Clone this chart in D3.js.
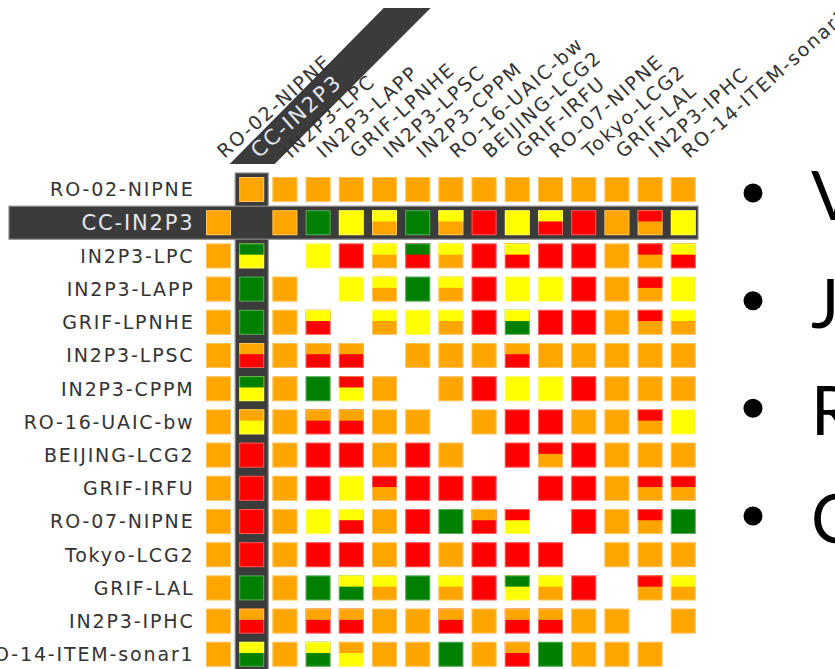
<!DOCTYPE html>
<html><head><meta charset="utf-8">
<script src="https://cdn.jsdelivr.net/npm/d3@7"></script>
<style>
html,body{margin:0;padding:0;background:#fff;overflow:hidden}
svg{display:block}
</style></head>
<body>
<svg id="chart" width="835" height="669"></svg>
<script>
// ---- data ----
const sites = ["RO-02-NIPNE","CC-IN2P3","IN2P3-LPC","IN2P3-LAPP","GRIF-LPNHE","IN2P3-LPSC","IN2P3-CPPM","RO-16-UAIC-bw","BEIJING-LCG2","GRIF-IRFU","RO-07-NIPNE","Tokyo-LCG2","GRIF-LAL","IN2P3-IPHC","RO-14-ITEM-sonar1"];
const highlighted = "CC-IN2P3";
// status codes: O=orange, R=red, Y=yellow, G=green; "A/B" = top/bottom halves; "" = no test
const statusRows = [
 ["","O","O","O","O","O","O","O","O","O","O","O","O","O","O"],
 ["O","","O","G","Y","Y/O","G","Y/O","R","Y","Y/R","R","O","R/O","Y"],
 ["O","G/Y","","Y","R","Y/O","G/R","Y/O","R","Y/R","R","R","O","R/O","Y/R"],
 ["O","G","O","","Y","Y/O","G","Y/O","R","Y","Y","R","O","R/O","Y"],
 ["O","G","O","Y/R","","Y/O","Y","Y/O","R","Y/G","R","R","O","R/O","Y/O"],
 ["O","O/R","O","O/R","O/R","","O","O","O","O/R","O","O","O","O","O"],
 ["O","G/Y","O","G","R/Y","O","","O","R","Y","Y","R","O","O","O"],
 ["O","O/Y","O","O/R","O/R","O","O","","O","R","R","O","O","R/O","Y"],
 ["O","R","O","R","R","O","R","O","","R","R/O","R","O","O","O"],
 ["O","R","O","R","Y","R/O","R","R","R","","R","R","O","R/O","R/O"],
 ["O","R","O","Y","Y/R","O","R","G","O/R","R/Y","","R","O","R/O","G"],
 ["O","R","O","R","R","O","R","O","R","R","R","","O","O","O"],
 ["O","G","O","G","Y/G","Y/O","G","Y/O","R","G/Y","Y/O","R","","R/O","Y/O"],
 ["O","O/R","O","O/R","O/R","O","O","O/R","O","O/R","O/R","O","O","","O"],
 ["O","Y/G","O","Y/G","O/Y","O","O","G","O","O/R","G","O","O","O",""]
];
const statusColors = {O:"#FFA500", R:"#FF0000", Y:"#FFFF00", G:"#008000"};
const bullets = ["V","J","R","C"];

// ---- layout ----
const svg = d3.select("#chart");
const x = d3.scaleBand().domain(sites).range([206, 695.8]).paddingInner(0.247).paddingOuter(0);
const y = d3.scaleBand().domain(sites).range([177, 666.8]).paddingInner(0.247).paddingOuter(0);
const bw = x.bandwidth(), bh = y.bandwidth();
const topFrac = 0.45;
const bandFill = "#3b3b3b", bandStroke = "#8a8a8a";

// highlight bands
const hx = x(highlighted), hy = y(highlighted);
svg.append("rect").attr("x", hx - 4).attr("y", 173).attr("width", bw + 8).attr("height", 500)
  .attr("fill", bandFill).attr("stroke", bandStroke).attr("stroke-width", 1.2);
svg.append("rect").attr("x", 9).attr("y", hy - 4).attr("width", 689).attr("height", bh + 8)
  .attr("fill", bandFill).attr("stroke", bandStroke).attr("stroke-width", 1.2);
// diagonal band behind highlighted column label
const cx0 = hx + bw / 2;
const diag = [[cx0 - 22, 164], [cx0 + 23, 164], [cx0 + 23 + 156, 8], [cx0 - 24 + 156, 8]];
svg.append("polygon").attr("points", diag.map(p => p.join(",")).join(" ")).attr("fill", bandFill);

// cells
const cells = [];
statusRows.forEach((row, i) => row.forEach((code, j) => {
  if (!code) return;
  const parts = code.split("/");
  cells.push({r: sites[i], c: sites[j], top: parts[0], bot: parts[1] || parts[0]});
}));
const g = svg.append("g");
const cg = g.selectAll("g.cell").data(cells).join("g").attr("class", "cell")
  .attr("transform", d => `translate(${x(d.c)},${y(d.r)})`);
cg.append("rect").attr("width", bw).attr("height", bh).attr("fill", d => statusColors[d.bot]);
cg.filter(d => d.top !== d.bot).append("rect").attr("width", bw).attr("height", bh * topFrac)
  .attr("fill", d => statusColors[d.top]);
cg.append("rect").attr("x", 0.5).attr("y", 0.5).attr("width", bw - 1).attr("height", bh - 1)
  .attr("fill", "none").attr("stroke", "rgba(255,255,255,0.35)").attr("stroke-width", 1);

// row labels
svg.append("g").selectAll("text").data(sites).join("text")
  .attr("x", 194.5).attr("y", d => y(d) + bh / 2).attr("dy", "0.36em")
  .attr("text-anchor", "end")
  .style("font-family", "'DejaVu Sans', Verdana, sans-serif")
  .style("font-size", d => d === highlighted ? "21px" : "19px")
  .style("letter-spacing", "1.85px")
  .attr("fill", d => d === highlighted ? "#e4e8f0" : "#333")
  .text(d => d);

// column labels
svg.append("g").selectAll("text").data(sites).join("text")
  .attr("transform", d => `translate(${x(d) + bw / 2 + (d === highlighted ? 7 : 6)},159) rotate(-41.5)`)
  .style("font-family", "'DejaVu Sans', Verdana, sans-serif")
  .style("font-size", d => d === highlighted ? "21px" : "19px")
  .style("letter-spacing", "1.85px")
  .attr("fill", d => d === highlighted ? "#e4e8f0" : "#333")
  .text(d => d);

// bullet list (slide text, clipped at right edge)
const by = d3.scalePoint().domain(bullets).range([220, 543]);
const bl = svg.append("g").selectAll("g").data(bullets).join("g");
bl.append("circle").attr("cx", 753).attr("cy", d => by(d) - 27).attr("r", 9.5).attr("fill", "#000");
bl.append("text").attr("x", 811).attr("y", d => by(d))
  .style("font-family", "Lato, 'Open Sans', sans-serif").style("font-size", "67px")
  .attr("fill", "#000").text(d => d);
</script>
</body></html>
